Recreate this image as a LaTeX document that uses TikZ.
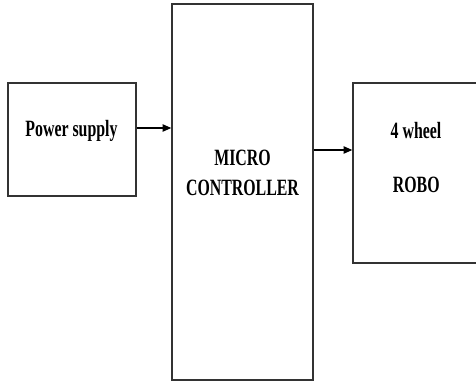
\documentclass[tikz,border=0pt]{standalone}
\usepackage{fontspec}
\setmainfont{Liberation Serif}[FakeStretch=0.68]
\usetikzlibrary{arrows.meta}

\tikzset{every picture/.style={line width=0.75pt}}
\tikzset{
  blockbox/.style={draw={rgb,255:red,51;green,51;blue,51}, line width=1.1pt, rectangle, inner sep=0pt},
  blocktext/.style={font=\fontsize{17.5}{22.5}\selectfont\bfseries, inner sep=0pt, align=center},
  flowarrow/.style={draw=black, line width=1pt, -{Triangle[length=6.5pt,width=5.5pt]}}
}

\begin{document}
\begin{tikzpicture}[x=0.75pt,y=0.75pt,yscale=-1,xscale=1]
\useasboundingbox (0,0) rectangle (476,383);

%Shape: Rectangle [power supply]
\node (power) at (72,139.5) [blockbox, minimum width=128*0.75pt, minimum height=113*0.75pt] {};
%Shape: Rectangle [micro controller]
\node (micro) at (242.5,192) [blockbox, minimum width=141*0.75pt, minimum height=376*0.75pt] {};
%Shape: Rectangle [robo]
\node (robo) at (416.5,173) [blockbox, minimum width=127*0.75pt, minimum height=180*0.75pt] {};

%Straight Lines [power -> micro]
\coordinate (microin) at (172,128);
\draw [flowarrow] (power.east |- microin) -- (micro.west |- microin);
%Straight Lines [micro -> robo]
\coordinate (roboin) at (353,150);
\draw [flowarrow] (micro.east |- roboin) -- (robo.west |- roboin);

% Text Node
\node (powertext) at (71.5,136) [blocktext, anchor=base] {Power supply};
% Text Node
\node (microtext) at (242.5,195) [blocktext, anchor=base] {MICRO\\CONTROLLER};
% Text Node
\node (wheeltext) at (416,138.3) [blocktext, anchor=base] {4 wheel};
% Text Node
\node (robotext) at (416.3,192.3) [blocktext, anchor=base] {ROBO};

\end{tikzpicture}
\end{document}
